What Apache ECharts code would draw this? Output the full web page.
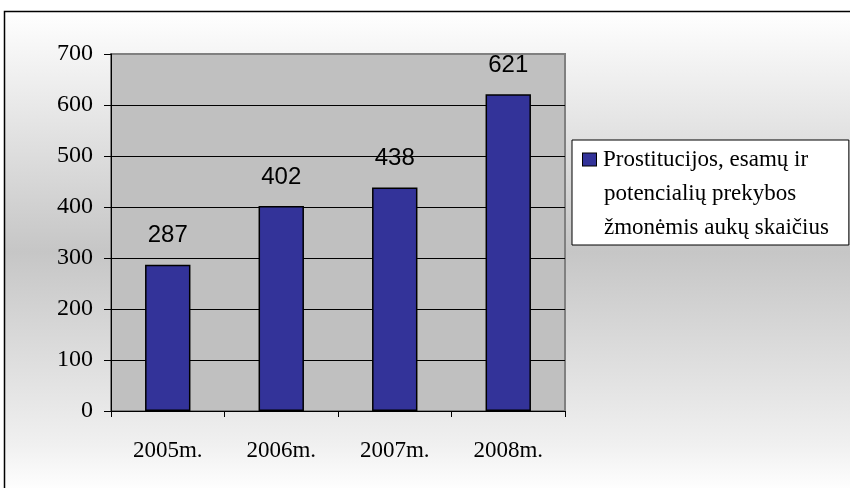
<!DOCTYPE html>
<html>
<head>
<meta charset="utf-8">
<script src="https://cdn.jsdelivr.net/npm/echarts@6/dist/echarts.min.js"></script>
<style>
  html, body { margin: 0; padding: 0; background: #fff; }
  #chart { width: 850px; height: 488px; }
</style>
</head>
<body>
<div id="chart"></div>
<script>
// 年份
var years = ['2005m.', '2006m.', '2007m.', '2008m.']
// 受害者人数
var victims = [287, 402, 438, 621]
// 图例文字（三行）
var legendLines = ['Prostitucijos, esamų ir', 'potencialių prekybos', 'žmonėmis aukų skaičius']
var seriesName = legendLines.join(' ')

var chart = echarts.init(document.getElementById('chart'))
chart.setOption({
  animation: false,
  // 外框 + 渐变背景
  graphic: [
    {
      type: 'rect',
      z: -10,
      silent: true,
      shape: { x: 4.5, y: 11.5, width: 860, height: 480 },
      style: {
        fill: new echarts.graphic.LinearGradient(0, 0, 0, 1, [
          { offset: 0, color: '#ffffff' },
          { offset: 0.5, color: '#c6c6c6' },
          { offset: 0.9, color: '#f0f0f0' },
          { offset: 1, color: '#ffffff' }
        ]),
        stroke: '#000',
        lineWidth: 1.5
      }
    }
  ],
  grid: {
    left: 111,
    top: 54,
    width: 454,
    height: 357,
    show: true,
    backgroundColor: '#c0c0c0',
    borderColor: '#808080',
    borderWidth: 2
  },
  legend: {
    left: 572,
    top: 140,
    orient: 'vertical',
    backgroundColor: '#fff',
    borderColor: '#000',
    borderWidth: 1,
    padding: [8, 20, 6, 5],
    itemWidth: 0,
    itemHeight: 0,
    itemStyle: { opacity: 0 },
    formatter: function () {
      return '{box|}{t|' + legendLines[0] + '}\n{sp|}{t|' + legendLines[1] + '}\n{sp|}{t|' + legendLines[2] + '}'
    },
    textStyle: {
      color: '#000',
      rich: {
        box: { width: 13, height: 12, backgroundColor: '#333399', borderColor: '#000', borderWidth: 1 },
        sp: { width: 14 },
        t: { fontFamily: 'Liberation Serif', fontSize: 23, color: '#000', lineHeight: 34, padding: [0, 0, 0, 7] }
      }
    },
    data: [{ name: seriesName }]
  },
  xAxis: {
    type: 'category',
    data: years,
    axisLine: { lineStyle: { color: '#000' } },
    axisTick: { show: true, length: 6, lineStyle: { color: '#000' } },
    axisLabel: {
      fontFamily: 'Liberation Serif',
      fontSize: 23,
      color: '#000',
      margin: 28
    }
  },
  yAxis: {
    type: 'value',
    min: 0,
    max: 700,
    interval: 100,
    axisLine: { show: true, lineStyle: { color: '#000' } },
    axisTick: { show: true, length: 7, lineStyle: { color: '#000' } },
    splitLine: { showMaxLine: false, lineStyle: { color: '#000', width: 1 } },
    axisLabel: {
      fontFamily: 'Liberation Serif',
      fontSize: 24,
      color: '#000',
      margin: 18
    }
  },
  series: [
    {
      name: seriesName,
      type: 'bar',
      data: victims,
      barWidth: '40%',
      itemStyle: { color: '#333399', borderColor: '#000', borderWidth: 1.5 },
      label: {
        show: true,
        position: 'top',
        distance: 17,
        fontFamily: 'Liberation Sans',
        fontSize: 24,
        color: '#000'
      }
    }
  ]
})
</script>
</body>
</html>
